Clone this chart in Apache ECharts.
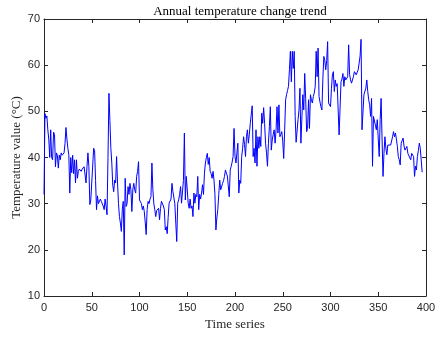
<!DOCTYPE html>
<html>
<head>
<meta charset="utf-8">
<script src="https://cdn.jsdelivr.net/npm/echarts@6/dist/echarts.min.js"></script>
<style>
  html, body { margin: 0; padding: 0; background: #fff; }
  #myChart { width: 446px; height: 340px; }
</style>
</head>
<body>
<div id="myChart"></div>
<script>
// temperature readings, one per time step (starting at 0)
let tempValues = [
  32, 49.5, 48.5, 49, 46, 44, 40, 46, 40, 39.5,
  45.5, 45, 38, 41, 40.5, 37.7, 40.5, 39.5, 41, 40.5,
  40.6, 41, 43, 46.5, 44, 42, 40.5, 32.3, 40, 36.7,
  40.5, 36.5, 39.5, 34.5, 39.5, 35.5, 37, 37.5, 37.5, 37,
  37.5, 37.5, 38, 38, 34.5, 38, 41, 38, 29.8, 30.8,
  30.5, 31, 42, 41.5, 35, 28.7, 31.7, 30, 30, 31,
  30.5, 30.5, 29.5, 28.7, 31, 29.4, 27.6, 40, 53.9, 48,
  42, 38.8, 34, 32.6, 35.1, 34.5, 40.2, 34.5, 30, 27.2,
  25.8, 24, 28.7, 30.5, 18.9, 35.5, 29.4, 30, 33.7, 32,
  34.4, 33, 28.3, 33, 34.4, 33, 32.3, 35.9, 37, 39.1,
  30.8, 30.5, 30, 28.7, 29.5, 28.3, 26, 23.3, 28.7, 30.5,
  30, 31, 31.5, 38.8, 33, 30, 28.7, 27.2, 28.5, 28.7,
  29, 26.5, 29, 30.5, 30.8, 29.5, 28.7, 24.3, 25, 23.5,
  27, 30.1, 30.5, 31, 34.4, 32.6, 33, 30, 25.8, 21.8,
  30.1, 30.8, 32, 33.7, 30.1, 30.5, 35, 45.3, 30.8, 35.9,
  35.5, 30.1, 29, 31, 29, 29.5, 27.2, 32.3, 30.1, 32,
  31.5, 35.9, 28.7, 32, 31, 32.3, 34.1, 32, 36.6, 38.8,
  40, 40.9, 38.5, 40, 37, 36.5, 35.5, 37, 35.1, 32,
  24.3, 26.9, 28.7, 32, 35.1, 33, 32.7, 34.4, 35, 35.9,
  37.3, 36.6, 36, 35.9, 31.5, 37.3, 38.1, 39, 40.2, 46.3,
  40.2, 38.8, 41, 43.1, 32.3, 35.1, 34.4, 40.2, 42, 44.5,
  42.8, 40.2, 44.5, 46, 43.1, 45, 47.4, 47.1, 51.2, 40.2,
  42, 38.8, 46, 38.1, 44.5, 42, 44.5, 42.4, 49.6, 47.4,
  50.8, 47.4, 43.1, 41, 38.1, 43.1, 46.7, 51, 41.6, 43.8,
  45, 46, 43.1, 46, 51, 45.3, 51.4, 44.5, 45, 45.6,
  43.5, 39.8, 46, 52.5, 53.6, 54.5, 55.4, 59, 63, 56.4,
  63, 59.3, 63, 48.9, 43.3, 43.1, 48.2, 50.3, 55, 43.1,
  42.7, 53.6, 50.3, 58.2, 52.8, 45.6, 46.3, 52.5, 46.3, 53.6,
  52.5, 51.8, 53.2, 54, 55.4, 63, 57.5, 63.7, 53.2, 52,
  51, 50.3, 57, 61.9, 61.1, 59, 61, 65.1, 51.8, 51.4,
  51, 55, 57.9, 58.6, 54.3, 56.8, 55.4, 56, 56.1, 44.9,
  45.3, 56.4, 57, 58.2, 55.4, 57.5, 56.8, 57, 57.5, 64.4,
  58, 56.8, 56.1, 56.4, 57.5, 58.6, 58.2, 57.9, 58.5, 59,
  59.3, 62, 65.6, 46, 45.6, 53.6, 53.2, 55, 56.8, 54.3,
  52.5, 51.4, 48.9, 52.8, 38.1, 48.9, 49.2, 47, 46, 48.2,
  44, 40.2, 48.2, 52.8, 44, 35.9, 40.9, 44.5, 42, 40.6,
  42.7, 42.7, 42.4, 42.7, 43.1, 44.5, 45.6, 44.5, 45.3, 44,
  42.4, 40.2, 39.5, 38.4, 43.1, 43.5, 44.2, 42.5, 41.6, 41.3,
  42.4, 40.9, 41.3, 40.5, 39.5, 40.9, 41, 40.2, 35.9, 38.1,
  37.3, 40.2, 41.5, 43.1, 42, 41.6, 36.8
]
let xTicks = [0, 50, 100, 150, 200, 250, 300, 350, 400]
let yTicks = [10, 20, 30, 40, 50, 60, 70]

let seriesData = tempValues.map(function (v, i) { return [i, v] })

let serif = '"Liberation Serif", "DejaVu Serif", serif'
let sans = '"Liberation Sans", Arial, sans-serif'

// shared look of the boxed MATLAB-style axes
function boxAxis (extra) {
  let base = {
    type: 'value',
    axisLine: { show: true, onZero: false, lineStyle: { color: '#262626', width: 1 } },
    axisTick: { show: true, inside: true, length: 4, lineStyle: { color: '#262626' } },
    splitLine: { show: false }
  }
  return Object.assign(base, extra)
}

let option = {
  animation: false,
  backgroundColor: '#fff',
  title: {
    text: 'Annual temperature change trend',
    left: 235,
    top: 0,
    textAlign: 'center',
    textStyle: { fontFamily: serif, fontSize: 13, fontWeight: 'normal', color: '#000' }
  },
  grid: { left: 44, right: 20, top: 19, bottom: 44, outerBoundsMode: 'none' },
  xAxis: [
    boxAxis({
      position: 'bottom',
      min: xTicks[0],
      max: xTicks[xTicks.length - 1],
      interval: 50,
      name: 'Time series',
      nameLocation: 'middle',
      nameGap: 22,
      nameTextStyle: { fontFamily: serif, fontSize: 13, color: '#262626' },
      axisLabel: { fontFamily: sans, fontSize: 11, color: '#262626', margin: 6 }
    }),
    boxAxis({
      position: 'top',
      min: xTicks[0],
      max: xTicks[xTicks.length - 1],
      interval: 50,
      axisLabel: { show: false }
    })
  ],
  yAxis: [
    boxAxis({
      position: 'left',
      min: yTicks[0],
      max: yTicks[yTicks.length - 1],
      interval: 10,
      name: 'Temperature value (°C)',
      nameLocation: 'middle',
      nameGap: 21,
      nameMoveOverlap: false,
      nameTextStyle: { fontFamily: serif, fontSize: 13, color: '#262626' },
      axisLabel: { fontFamily: sans, fontSize: 11, color: '#262626', margin: 4 }
    }),
    boxAxis({
      position: 'right',
      min: yTicks[0],
      max: yTicks[yTicks.length - 1],
      interval: 10,
      axisLabel: { show: false }
    })
  ],
  series: [
    {
      name: 'temperature',
      type: 'line',
      symbol: 'none',
      data: seriesData,
      lineStyle: { color: '#0000ff', width: 1 }
    }
  ]
}

let myChart = echarts.init(document.getElementById('myChart'))
myChart.setOption(option)
</script>
</body>
</html>
